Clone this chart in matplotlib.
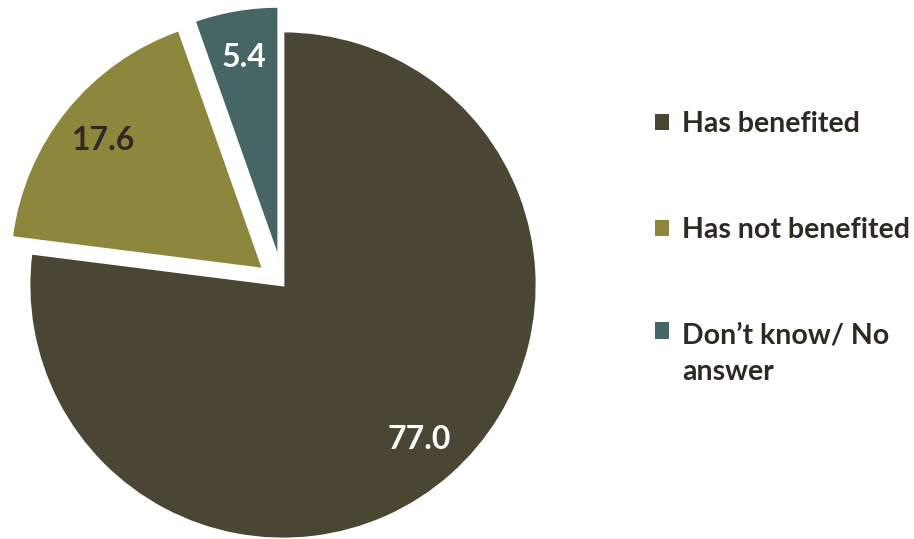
import matplotlib.pyplot as plt

# データ
labels = ['Has benefited', 'Has not benefited', 'Don\u2019t know/ No\nanswer']
values = [77.0, 17.6, 5.4]
colors = ['#4b4534', '#8d873e', '#456665']
label_colors = ['white', '#2e2a22', 'white']

plt.rcParams['font.family'] = ['Lato', 'DejaVu Sans']

fig = plt.figure(figsize=(9.14, 5.39), dpi=100)
ax = fig.add_axes([0, 0, 1, 1])

# 円グラフ (ピクセル座標で配置、explode はピクセル単位)
wedges, texts, autotexts = ax.pie(
    values, colors=colors, startangle=90, counterclock=False,
    center=(283, 254), radius=254, explode=[0, 25, 25],
    autopct=lambda p: f'{p:.1f}', pctdistance=0.81,
    wedgeprops=dict(edgecolor='white', linewidth=2))
for t, c in zip(autotexts, label_colors):
    t.set_color(c)
    t.set_fontsize(23)
    t.set_fontweight('bold')

ax.set_xlim(0, 914)
ax.set_ylim(0, 539)
ax.set_aspect('equal')
ax.axis('off')

leg = ax.legend(wedges, labels, loc='upper left',
                bbox_to_anchor=(655 / 914, 1 - 111 / 539),
                frameon=False, fontsize=20.5, labelspacing=2.8,
                handlelength=0.5, handleheight=0.5, handletextpad=0.45,
                borderpad=0, borderaxespad=0)
for t in leg.get_texts():
    t.set_fontweight('bold')
    t.set_color('#2e2a22')
    t.set_linespacing(1.48)
for h in leg.legend_handles:
    h.set_linewidth(0)
# 複数行の凡例はマーカーを1行目に合わせる
leg._legend_handle_box.get_children()[0].get_children()[2].align = 'top'

fig.savefig('out.png', dpi=100)
